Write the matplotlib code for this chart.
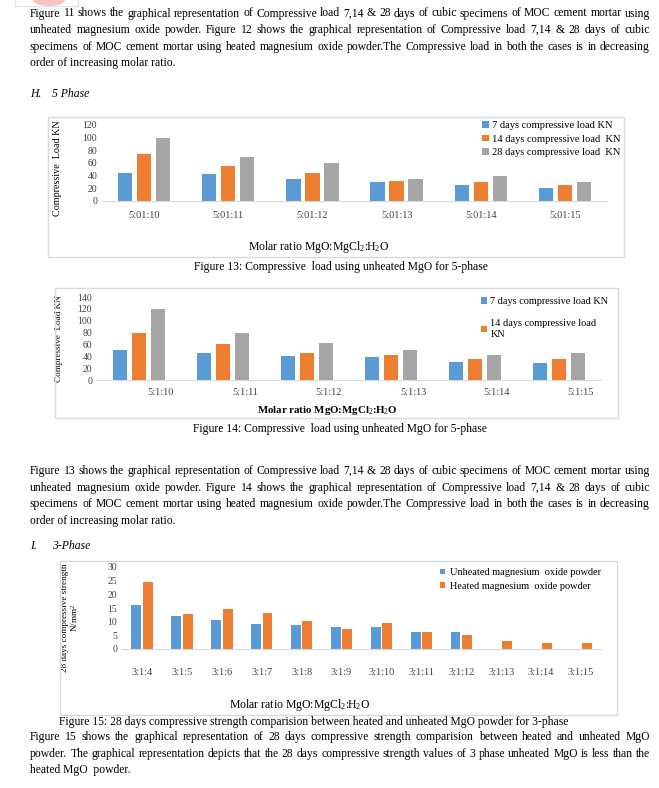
import matplotlib
matplotlib.use("Agg")
import matplotlib.pyplot as plt
import matplotlib.transforms as mtransforms
from matplotlib.patches import Rectangle, Ellipse
import numpy as np

W, H = 659, 788

# data
ratios_fig13 = ["5:01:10", "5:01:11", "5:01:12", "5:01:13", "5:01:14", "5:01:15"]
load7_fig13 = [45, 42, 35, 30, 25, 20]
load14_fig13 = [75, 55, 45, 32, 30, 25]
load28_fig13 = [100, 70, 60, 35, 40, 30]

ratios_fig14 = ["5:1:10", "5:1:11", "5:1:12", "5:1:13", "5:1:14", "5:1:15"]
load7_fig14 = [50, 45, 40, 38, 30, 28]
load14_fig14 = [80, 60, 45, 42, 35, 35]
load28_fig14 = [120, 80, 62, 50, 42, 45]

ratios_fig15 = ["3:1:4", "3:1:5", "3:1:6", "3:1:7", "3:1:8", "3:1:9",
                "3:1:10", "3:1:11", "3:1:12", "3:1:13", "3:1:14", "3:1:15"]
unheated_28 = [16.2, 12.2, 10.6, 9.1, 8.8, 8.1, 8.1, 6.1, 6.1, np.nan, np.nan, np.nan]
heated_28 = [24.5, 12.7, 14.7, 13.3, 10.2, 7.3, 9.4, 6.1, 5.0, 2.8, 2.3, 2.1]

para1 = [
    "Figure 11 shows the graphical representation of Compressive load 7,14 & 28 days of cubic specimens of  MOC cement mortar using",
    "unheated magnesium oxide powder. Figure 12 shows the graphical representation of Compressive load 7,14 & 28 days of cubic",
    "specimens of  MOC cement mortar using heated magnesium oxide powder.The Compressive load in both the cases is in decreasing",
    "order of increasing molar ratio.",
]
para2 = [
    "Figure 13 shows the graphical representation of Compressive load 7,14 & 28 days of cubic specimens of  MOC cement mortar using",
    "unheated magnesium oxide powder. Figure 14 shows the graphical representation of Compressive load 7,14 & 28 days of cubic",
    "specimens of  MOC cement mortar using heated magnesium oxide powder.The Compressive load in both the cases is in decreasing",
    "order of increasing molar ratio.",
]
para3 = [
    "Figure 15 shows the graphical representation of 28 days compressive strength comparision between heated and unheated MgO",
    "powder. The graphical representation depicts that the 28 days compressive strength values of 3 phase unheated MgO is less than the",
    "heated MgO  powder.",
]
cap13 = "Figure 13: Compressive  load using unheated MgO for 5-phase"
cap14 = "Figure 14: Compressive  load using unheated MgO for 5-phase"
cap15 = "Figure 15: 28 days compressive strength comparision between heated and unheated MgO powder for 3-phase"
xlab = "Molar ratio MgO:MgCl$_2$:H$_2$O"

BLUE, ORANGE, GRAY = "#5b9bd5", "#ed7d31", "#a5a5a5"
TXT = "#404040"

plt.rcParams['font.family'] = ['Liberation Serif', 'DejaVu Serif']
plt.rcParams['mathtext.fontset'] = 'custom'
plt.rcParams['mathtext.rm'] = 'Liberation Serif'
plt.rcParams['mathtext.it'] = 'Liberation Serif:italic'
plt.rcParams['mathtext.bf'] = 'Liberation Serif:bold'

fig = plt.figure(figsize=(W / 100, H / 100), dpi=100)
renderer = fig.canvas.get_renderer()


def fx(x):
    return x / W


def fy(y):
    return 1 - y / H


def text_width(s, size, **kw):
    t = fig.text(0, 0, s, fontsize=size, **kw)
    w = t.get_window_extent(renderer).width
    t.remove()
    return w


# body font size fitted to the caption width
body = 10 * (570 - 59) / text_width(cap15, 10)


def paragraph(lines, y0, x0=30, x1=650, lh=16.6):
    for i, line in enumerate(lines):
        y = fy(y0 + i * lh)
        words = line.split()
        if i == len(lines) - 1:
            fig.text(fx(x0), y, line, fontsize=body, va='center')
            continue
        widths = [text_width(w, body) for w in words]
        gap = (x1 - x0 - sum(widths)) / (len(words) - 1)
        x = x0
        for w, wd in zip(words, widths):
            fig.text(fx(x), y, w, fontsize=body, va='center')
            x += wd + gap


def add_ax(x0, y0, x1, y1):
    return fig.add_axes([fx(x0), fy(y1), (x1 - x0) / W, (y1 - y0) / H])


def frame(x0, y0, x1, y1):
    fig.patches.append(Rectangle((fx(x0), fy(y1)), (x1 - x0) / W, (y1 - y0) / H,
                                 transform=fig.transFigure, fill=False,
                                 edgecolor="#d5dbe3", lw=1))


def style(ax):
    for s in ["top", "right", "left"]:
        ax.spines[s].set_visible(False)
    ax.spines["bottom"].set_color("#d9d9d9")
    ax.tick_params(length=0, labelsize=7, colors=TXT)
    ax.tick_params(axis='x', labelsize=7.5)


# logo fragment at the very top
fig.patches.append(Ellipse((fx(49), fy(0)), 32 / W, 12 / H, transform=fig.transFigure,
                           color="#f4c4c4", lw=0))
fig.patches.append(Rectangle((fx(15), fy(6)), 63 / W, 10 / H, transform=fig.transFigure,
                             fill=False, edgecolor="#e3e3e3", lw=1))

paragraph(para1, 13.5)
fig.text(fx(30), fy(94), "H.", fontsize=body, style='italic', va='center')
fig.text(fx(52), fy(94), "5 Phase", fontsize=body, style='italic', va='center')

# Figure 13
frame(48, 117, 624, 257)
ax1 = add_ax(102, 125, 607, 201)
x = np.arange(len(ratios_fig13))
w = 0.17
ax1.bar(x - 0.226, load7_fig13, w, color=BLUE, label="7 days compressive load KN")
ax1.bar(x, load14_fig13, w, color=ORANGE, label="14 days compressive load  KN")
ax1.bar(x + 0.226, load28_fig13, w, color=GRAY, label="28 days compressive load  KN")
ax1.set_xlim(-0.5, len(x) - 0.5)
ax1.set_ylim(0, 120)
ax1.set_yticks(range(0, 121, 20))
ax1.set_xticks(x, ratios_fig13)
ax1.tick_params(axis='x', pad=7)
style(ax1)
ax1.set_ylabel("Compressive  Load KN", fontsize=7.3)
ax1.yaxis.set_label_coords(-0.079, 0.43)
ax1.set_xlabel(xlab, fontsize=8.5)
ax1.xaxis.set_label_coords((319 - 102) / 505, -(239 - 201) / 76)
ax1.legend(loc='upper left', bbox_to_anchor=(fx(478), fy(117)), bbox_transform=fig.transFigure,
           frameon=False, fontsize=7.6, handlelength=0.6, handleheight=0.6,
           handletextpad=0.3, labelspacing=0.4, borderaxespad=0)
fig.text(fx(341), fy(267), cap13, fontsize=body, ha='center', va='center')

# Figure 14
frame(55, 288, 618, 418)
ax2 = add_ax(97, 297, 601, 380)
x = np.arange(len(ratios_fig14))
b7 = ax2.bar(x - 0.226, load7_fig14, w, color=BLUE)
b14 = ax2.bar(x, load14_fig14, w, color=ORANGE)
ax2.bar(x + 0.226, load28_fig14, w, color=GRAY)
ax2.set_xlim(-0.5, len(x) - 0.5)
ax2.set_ylim(0, 140)
ax2.set_yticks(range(0, 141, 20))
ax2.set_xticks(x, ratios_fig14)
ax2.tick_params(axis='x', pad=6)
style(ax2)
shift = mtransforms.ScaledTranslation(22 / 100, 0, fig.dpi_scale_trans)
for lab in ax2.get_xticklabels():
    lab.set_transform(lab.get_transform() + shift)
ax2.set_ylabel("Compressive  Load KN", fontsize=6.6)
ax2.yaxis.set_label_coords((63 - 97) / 504, 0.5)
ax2.set_xlabel(xlab, fontsize=7.8, fontweight='bold')
ax2.xaxis.set_label_coords((327 - 97) / 504, -(404 - 380) / 83)
ax2.legend([b7, b14], ["7 days compressive load KN", "14 days compressive load\nKN"],
           loc='upper left', bbox_to_anchor=(fx(477), fy(293)), bbox_transform=fig.transFigure,
           frameon=False, fontsize=7.4, handlelength=0.6, handleheight=0.6,
           handletextpad=0.3, labelspacing=1.3, borderaxespad=0)
fig.text(fx(340), fy(429), cap14, fontsize=body, ha='center', va='center')

paragraph(para2, 471)
fig.text(fx(30), fy(546), "I.", fontsize=body, style='italic', va='center')
fig.text(fx(52), fy(546), "3-Phase", fontsize=body, style='italic', va='center')

# Figure 15
frame(60, 561, 617, 715)
ax3 = add_ax(122, 567, 601, 649)
x = np.arange(len(ratios_fig15))
w3 = 0.25
ax3.bar(x - 0.145, unheated_28, w3, color=BLUE, label="Unheated magnesium  oxide powder")
ax3.bar(x + 0.145, heated_28, w3, color=ORANGE, label="Heated magnesium  oxide powder")
ax3.set_xlim(-0.5, len(x) - 0.5)
ax3.set_ylim(0, 30)
ax3.set_yticks(range(0, 31, 5))
ax3.set_xticks(x, ratios_fig15)
ax3.tick_params(axis='x', pad=14)
style(ax3)
ax3.set_ylabel("28 days compressive strength\nN/mm$^2$", fontsize=6.6, linespacing=1.05)
ax3.yaxis.set_label_coords((80 - 122) / 479, 0.38)
ax3.set_xlabel(xlab, fontsize=8.5)
ax3.xaxis.set_label_coords((300 - 122) / 479, -(697 - 649) / 82)
ax3.legend(loc='upper left', bbox_to_anchor=(fx(436), fy(564)), bbox_transform=fig.transFigure,
           frameon=False, fontsize=7.4, handlelength=0.5, handleheight=0.5,
           handletextpad=0.5, labelspacing=0.45, borderaxespad=0)
fig.text(fx(314), fy(722), cap15, fontsize=body, ha='center', va='center')

paragraph(para3, 737)

fig.savefig("out.png", dpi=100)
